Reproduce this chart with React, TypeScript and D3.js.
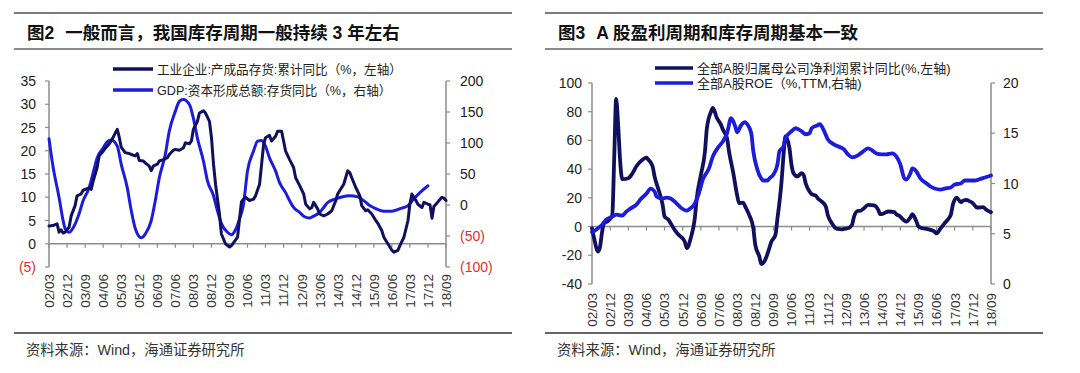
import React from 'react';
import * as d3 from 'd3';

// ---------------- data ----------------
const xTickLabels = ["02/03","02/12","03/09","04/06","05/03","05/12","06/09","07/06","08/03","08/12","09/09","10/06","11/03","11/12","12/09","13/06","14/03","14/12","15/09","16/06","17/03","17/12","18/09"];

const leftAxisTicks = [35, 30, 25, 20, 15, 10, 5, 0, -5];
const leftRightAxisTicks = [200, 150, 100, 50, 0, -50, -100];
const rightAxisTicks = [100, 80, 60, 40, 20, 0, -20, -40];
const rightRightAxisTicks = [20, 15, 10, 5, 0];

// 工业企业:产成品存货:累计同比 (%, left axis)
const industrialInventory: [string, number][] = [
  ["2002-03",3.8],["2002-05",3.9],["2002-07",4.3],["2002-08",2.5],["2002-09",3.0],["2002-10",2.3],["2002-11",2.5],
  ["2003-01",3.6],["2003-02",6.0],["2003-04",8.2],["2003-05",10.3],["2003-07",10.7],["2003-08",11.5],["2003-11",12.0],["2003-12",11.7],
  ["2004-01",13.5],["2004-03",16.4],["2004-04",18.9],["2004-06",19.9],["2004-07",20.5],["2004-09",21.5],["2004-10",22.1],["2004-12",23.8],
  ["2005-01",24.6],["2005-02",22.8],["2005-03",20.8],["2005-05",19.6],["2005-07",19.4],["2005-08",19.2],["2005-10",18.9],["2005-11",19.4],["2005-12",17.9],
  ["2006-02",17.8],["2006-03",17.4],["2006-05",16.7],["2006-06",15.7],["2006-07",16.7],["2006-09",17.1],["2006-10",17.8],["2006-12",18.1],
  ["2007-02",18.5],["2007-03",19.2],["2007-05",20.1],["2007-06",20.3],["2007-08",20.1],["2007-10",20.6],["2007-11",21.7],
  ["2008-01",21.5],["2008-02",22.1],["2008-03",24.6],["2008-05",26.3],["2008-06",28.1],["2008-08",28.6],["2008-09",28.1],["2008-11",26.3],["2008-12",22.8],
  ["2009-01",17.1],["2009-02",12.8],["2009-04",6.4],["2009-05",2.1],["2009-07",0],["2009-09",-0.7],["2009-10",-0.4],
  ["2010-01",1.4],["2010-02",5.5],["2010-03",9.0],["2010-04",9.6],["2010-05",10.0],["2010-07",9.3],["2010-09",9.6],["2010-10",10.3],["2010-12",12.8],
  ["2011-01",17.1],["2011-02",21.4],["2011-03",22.8],["2011-05",23.3],["2011-06",22.1],["2011-08",23.1],["2011-09",24.2],["2011-11",24.2],["2011-12",22.1],
  ["2012-01",19.9],["2012-03",18.1],["2012-05",16.4],["2012-06",14.2],["2012-08",12.5],["2012-10",10.7],["2012-11",8.5],
  ["2013-01",7.5],["2013-02",7.8],["2013-03",8.9],["2013-05",7.5],["2013-06",6.4],["2013-08",6.0],["2013-10",6.4],["2013-12",7.1],
  ["2014-02",9.3],["2014-03",10.7],["2014-05",12.1],["2014-06",12.8],["2014-08",15.7],["2014-09",15.3],["2014-10",14.2],["2014-12",12.1],
  ["2015-02",10.3],["2015-03",8.2],["2015-05",7.1],["2015-06",7.3],["2015-08",6.4],["2015-10",5.0],["2015-11",4.4],
  ["2016-01",2.8],["2016-02",1.4],["2016-04",0],["2016-06",-1.4],["2016-07",-1.8],["2016-09",-1.4],["2016-10",-0.4],["2016-12",1.4],
  ["2017-02",5.0],["2017-03",8.5],["2017-04",10.7],["2017-06",9.3],["2017-07",8.5],["2017-09",7.8],["2017-10",8.9],["2017-12",8.5],
  ["2018-01",8.4],["2018-02",5.5],["2018-03",8.0],["2018-04",8.5],["2018-05",9.0],["2018-06",9.5],["2018-07",10.0],["2018-08",9.8],["2018-09",9.3]
];

// GDP:资本形成总额:存货同比 (%, right axis)
const gdpInventory: [string, number][] = [
  ["2002-03",107],["2002-05",62],["2002-08",12],["2002-10",-25],["2002-11",-38],["2003-01",-44],["2003-03",-37],["2003-06",-14],["2003-08",7],["2003-11",28],
  ["2004-01",52],["2004-03",76],["2004-06",92],["2004-08",102],["2004-10",105],["2005-01",95],["2005-03",66],["2005-06",28],["2005-08",-9],["2005-10",-38],
  ["2006-01",-53],["2006-03",-47],["2006-06",-25],["2006-08",7],["2006-10",44],["2007-01",82],["2007-03",119],["2007-06",151],["2007-08",167],["2007-10",170],
  ["2008-01",162],["2008-03",140],["2008-05",108],["2008-08",71],["2008-10",39],["2009-01",15],["2009-03",-9],["2009-05",-30],["2009-08",-44],["2009-10",-48],
  ["2009-12",-40],["2010-02",-22],["2010-04",1],["2010-06",55],["2010-09",87],["2010-11",103],["2011-01",104],["2011-03",95],["2011-05",76],["2011-08",55],
  ["2011-10",36],["2012-01",20],["2012-03",7],["2012-05",-4],["2012-08",-12],["2012-10",-18],["2013-01",-21],["2013-03",-18],["2013-06",-12],["2013-08",-4],
  ["2013-10",4],["2014-02",10],["2014-05",13],["2014-09",15],["2015-01",13],["2015-04",7],["2015-07",-1],["2015-10",-6],["2016-02",-10],["2016-06",-10],
  ["2016-10",-6],["2017-02",-1],["2017-05",10],["2017-08",20],["2017-12",31]
];

// 全部A股归属母公司净利润累计同比 (%, left axis)
const netProfitGrowth: [string, number][] = [
  ["2002-03",-1.2],["2002-04",-8],["2002-06",-17.4],["2002-07",-14],["2002-08",-3.5],["2002-09",2.3],["2002-11",4],
  ["2003-01",8],["2003-02",50],["2003-03",89],["2003-04",70],["2003-05",45],["2003-06",33],["2003-09",33.7],["2003-11",37],
  ["2004-01",42],["2004-04",46.5],["2004-06",48],["2004-07",46.5],["2004-09",42],["2004-10",35],["2004-12",25.6],
  ["2005-02",15],["2005-03",7],["2005-05",4.7],["2005-06",2.3],["2005-08",-2.3],["2005-10",-5.8],["2005-11",-7],
  ["2006-01",-10.5],["2006-02",-15],["2006-04",-8],["2006-06",5.8],["2006-07",19.8],["2006-09",36],["2006-11",52],["2006-12",68.6],
  ["2007-02",80],["2007-03",82.6],["2007-05",75.6],["2007-07",71],["2007-08",67.4],["2007-10",61.6],["2007-11",52],
  ["2008-01",38],["2008-03",22],["2008-04",16.3],["2008-06",16.7],["2008-07",14],["2008-09",8],["2008-11",-1.2],["2008-12",-12.8],
  ["2009-02",-21],["2009-03",-26],["2009-05",-23],["2009-07",-15],["2009-08",-10.5],["2009-10",-5.8],["2009-11",5.8],["2009-12",17],
  ["2010-01",31],["2010-02",50],["2010-03",62.8],["2010-05",54.6],["2010-06",43],["2010-07",37.2],["2010-09",34.9],["2010-11",37.2],["2010-12",36],
  ["2011-01",30.2],["2011-03",24.4],["2011-04",22.6],["2011-06",21.6],["2011-07",19.8],["2011-09",17.4],["2011-11",14],["2011-12",8.1],
  ["2012-02",2.3],["2012-04",-1.2],["2012-05",-1.6],["2012-07",-1.9],["2012-08",-1.6],["2012-10",-1.2],["2012-12",1.2],
  ["2013-01",7],["2013-03",10.9],["2013-04",10.9],["2013-06",12.8],["2013-08",15.1],["2013-11",14.7],
  ["2014-01",11.6],["2014-02",8.6],["2014-04",9.3],["2014-06",10.5],["2014-09",10],["2014-10",8.6],["2014-12",7],
  ["2015-01",5.3],["2015-03",3.5],["2015-05",6.3],["2015-06",8.6],["2015-08",3.5],["2015-09",0],["2015-11",-1.2],
  ["2016-01",-1.6],["2016-03",-2.3],["2016-05",-3.5],["2016-06",-4.7],["2016-08",-1.2],["2016-10",2.3],["2016-11",4],
  ["2017-01",8.1],["2017-02",15.1],["2017-04",20.2],["2017-06",17],["2017-07",17.9],["2017-09",18.6],["2017-10",17.9],["2017-12",16.3],
  ["2018-02",13.3],["2018-03",13.3],["2018-05",13.5],["2018-07",11.5],["2018-09",10]
];

// 全部A股ROE (%, TTM, right axis)
const roeTTM: [string, number][] = [
  ["2002-03",5.15],["2002-05",5.4],["2002-08",5.9],["2002-10",6.4],["2003-01",6.7],["2003-03",6.9],["2003-06",6.8],["2003-08",7.2],["2003-10",7.5],
  ["2004-01",7.9],["2004-03",8.4],["2004-06",9.0],["2004-08",9.5],["2004-10",9.2],["2004-11",8.7],["2005-02",8.5],["2005-04",8.6],["2005-06",8.5],
  ["2005-09",8.0],["2005-11",7.6],["2006-02",7.3],["2006-03",7.4],["2006-06",8.0],["2006-08",9.0],["2006-10",10.4],["2007-01",11.5],["2007-03",12.7],
  ["2007-06",13.7],["2007-08",14.2],["2007-10",15.0],["2007-12",16.5],["2008-02",15.7],["2008-03",15.1],["2008-05",15.8],["2008-07",16.1],["2008-08",15.9],
  ["2008-10",15.0],["2008-11",13.2],["2009-01",11.4],["2009-03",10.5],["2009-04",10.3],["2009-06",10.3],["2009-07",10.5],["2009-09",10.9],["2009-11",11.9],
  ["2009-12",13.2],["2010-02",13.7],["2010-03",14.5],["2010-06",15.2],["2010-08",15.5],["2010-11",15.2],["2011-01",14.9],["2011-03",15.0],["2011-04",15.5],
  ["2011-07",15.8],["2011-08",15.9],["2011-10",15.3],["2011-12",14.4],["2012-03",13.9],["2012-05",13.7],["2012-08",13.4],["2012-10",12.9],["2012-12",12.6],
  ["2013-03",12.8],["2013-05",13.1],["2013-08",13.5],["2013-10",13.3],["2013-12",13.0],["2014-03",12.9],["2014-05",12.9],["2014-08",13.0],["2014-10",12.7],
  ["2014-12",11.9],["2015-02",10.5],["2015-03",10.4],["2015-05",11.0],["2015-06",11.5],["2015-08",11.2],["2015-10",10.5],["2016-01",10.0],["2016-03",9.7],
  ["2016-05",9.5],["2016-08",9.4],["2016-10",9.5],["2017-01",9.6],["2017-03",9.9],["2017-06",10.0],["2017-08",10.3],["2017-10",10.3],["2018-01",10.3],
  ["2018-03",10.4],["2018-06",10.6],["2018-09",10.8]
];

// ---------------- styling ----------------
const DARK = '#10105e';
const BLUE = '#1c1cdc';
const AXIS = '#8c8c8c';
const RED = '#e03030';
const NUM_FONT = '"Liberation Sans", Arial, sans-serif';
const CJK_FONT = '"Liberation Sans", "Noto Sans CJK SC", sans-serif';

const parseMonth = d3.timeParse('%Y-%m');
const parseTick = d3.timeParse('%y/%m');

type Series = { data: [string, number][]; axis: 'L' | 'R'; color: string; width: number; curve: any };

interface PanelProps {
  x0: number; x1: number; yTop: number; yBot: number;
  domL: [number, number]; domR: [number, number];
  ticksL: number[]; ticksR: number[];
  fmtL: (v: number) => string; fmtR: (v: number) => string;
  colL: (v: number) => string; colR: (v: number) => string;
  labelGapL: number; labelGapR: number;
  xLabelTop: number;
  series: Series[];
  legend: { text: string; color: string; y: number }[];
  legendX0: number; legendX1: number; legendTextX: number; legendFont: number;
  titleLead: string; title: string; titleX: number; ruleX0: number; ruleX1: number;
  sourceX: number;
}

function Panel(p: PanelProps) {
  const first = parseTick(xTickLabels[0])!;
  const last = parseTick(xTickLabels[xTickLabels.length - 1])!;
  const x = d3.scaleTime().domain([first, last]).range([p.x0, p.x1]);
  const yL = d3.scaleLinear().domain(p.domL).range([p.yBot, p.yTop]);
  const yR = d3.scaleLinear().domain(p.domR).range([p.yBot, p.yTop]);
  const zeroY = yL(0);

  return (
    <g>
      {/* header rules + title */}
      <line x1={p.ruleX0} x2={p.ruleX1} y1={13} y2={13} stroke="#7a7a7a" strokeWidth={2} />
      <line x1={p.ruleX0} x2={p.ruleX1} y1={49} y2={49} stroke="#8a8a8a" strokeWidth={2} />
      <text x={p.titleX} y={38.5} fontFamily={CJK_FONT} fontWeight="bold" fontSize={17.5} fill="#111">
        <tspan>{p.titleLead}</tspan>
        <tspan dx={11}>{p.title}</tspan>
      </text>

      {/* axes */}
      <line x1={p.x0} x2={p.x0} y1={p.yTop} y2={p.yBot} stroke={AXIS} strokeWidth={1.5} />
      <line x1={p.x1} x2={p.x1} y1={p.yTop} y2={p.yBot} stroke={AXIS} strokeWidth={1.5} />
      <line x1={p.x0} x2={p.x1} y1={zeroY} y2={zeroY} stroke={AXIS} strokeWidth={1.5} />
      {p.ticksL.map(v => (
        <g key={'l' + v}>
          <line x1={p.x0 - 4} x2={p.x0} y1={yL(v)} y2={yL(v)} stroke={AXIS} strokeWidth={1.2} />
          <text x={p.x0 - p.labelGapL} y={yL(v)} dy="0.36em" textAnchor="end" fontFamily={NUM_FONT} fontSize={14} fill={p.colL(v)}>{p.fmtL(v)}</text>
        </g>
      ))}
      {p.ticksR.map(v => (
        <g key={'r' + v}>
          <line x1={p.x1} x2={p.x1 + 4} y1={yR(v)} y2={yR(v)} stroke={AXIS} strokeWidth={1.2} />
          <text x={p.x1 + p.labelGapR} y={yR(v)} dy="0.36em" textAnchor="start" fontFamily={NUM_FONT} fontSize={14} fill={p.colR(v)}>{p.fmtR(v)}</text>
        </g>
      ))}
      {xTickLabels.map(lab => {
        const xx = x(parseTick(lab)!);
        return (
          <g key={lab}>
            <line x1={xx} x2={xx} y1={zeroY} y2={zeroY + 4} stroke={AXIS} strokeWidth={1.2} />
            <text transform={`translate(${xx},${p.xLabelTop}) rotate(-90)`} dy="0.36em" textAnchor="end"
              fontFamily={NUM_FONT} fontSize={13.5} fill="#333">{lab}</text>
          </g>
        );
      })}

      {/* series */}
      {p.series.map((s, i) => {
        const ys = s.axis === 'L' ? yL : yR;
        const gen = d3.line<[string, number]>()
          .x(d => x(parseMonth(d[0])!))
          .y(d => ys(d[1]))
          .curve(s.curve);
        return <path key={i} d={gen(s.data) || ''} fill="none" stroke={s.color} strokeWidth={s.width} strokeLinejoin="round" strokeLinecap="round" />;
      })}

      {/* legend */}
      {p.legend.map((l, i) => (
        <g key={i}>
          <line x1={p.legendX0} x2={p.legendX1} y1={l.y} y2={l.y} stroke={l.color} strokeWidth={3.5} />
          <text x={p.legendTextX} y={l.y} dy="0.36em" fontFamily={CJK_FONT} fontSize={p.legendFont} fill="#222">{l.text}</text>
        </g>
      ))}

      {/* footer */}
      <line x1={p.ruleX0} x2={p.ruleX1} y1={333} y2={333} stroke="#333" strokeWidth={1.3} />
      <text x={p.sourceX} y={355} fontFamily={CJK_FONT} fontSize={14.3} fill="#333">资料来源：Wind，海通证券研究所</text>
    </g>
  );
}

export default function App() {
  const paren = (v: number) => (v < 0 ? `(${Math.abs(v)})` : `${v}`);
  const parenCol = (v: number) => (v < 0 ? RED : '#222');
  const plain = (v: number) => `${v}`;
  const black = () => '#222';
  return (
    <svg width={1080} height={373} style={{ position: 'absolute', left: 0, top: 0, background: '#fff' }}>
      <rect x={0} y={0} width={1080} height={373} fill="#fff" />
      <Panel
        x0={49} x1={446} yTop={81} yBot={267}
        domL={[-5, 35]} domR={[-100, 200]}
        ticksL={leftAxisTicks} ticksR={leftRightAxisTicks}
        fmtL={paren} fmtR={paren} colL={parenCol} colR={parenCol}
        labelGapL={13} labelGapR={14}
        xLabelTop={274}
        series={[
          { data: gdpInventory, axis: 'R', color: BLUE, width: 3, curve: d3.curveMonotoneX },
          { data: industrialInventory, axis: 'L', color: DARK, width: 3, curve: d3.curveLinear },
        ]}
        legend={[
          { text: '工业企业:产成品存货:累计同比（%，左轴）', color: DARK, y: 69 },
          { text: 'GDP:资本形成总额:存货同比（%，右轴）', color: BLUE, y: 90 },
        ]}
        legendX0={113} legendX1={153} legendTextX={157} legendFont={12.6}
        titleLead="图2" title="一般而言，我国库存周期一般持续 3 年左右" titleX={27}
        ruleX0={14} ruleX1={512} sourceX={26}
      />
      <Panel
        x0={592} x1={991} yTop={83} yBot={284}
        domL={[-40, 100]} domR={[0, 20]}
        ticksL={rightAxisTicks} ticksR={rightRightAxisTicks}
        fmtL={plain} fmtR={plain} colL={black} colR={black}
        labelGapL={10} labelGapR={12}
        xLabelTop={293}
        series={[
          { data: netProfitGrowth, axis: 'L', color: DARK, width: 3.8, curve: d3.curveMonotoneX },
          { data: roeTTM, axis: 'R', color: BLUE, width: 3.8, curve: d3.curveMonotoneX },
        ]}
        legend={[
          { text: '全部A股归属母公司净利润累计同比(%,左轴)', color: DARK, y: 68 },
          { text: '全部A股ROE（%,TTM,右轴)', color: BLUE, y: 83 },
        ]}
        legendX0={655} legendX1={693} legendTextX={697} legendFont={13}
        titleLead="图3" title="A 股盈利周期和库存周期基本一致" titleX={558}
        ruleX0={545} ruleX1={1043} sourceX={557}
      />
    </svg>
  );
}
